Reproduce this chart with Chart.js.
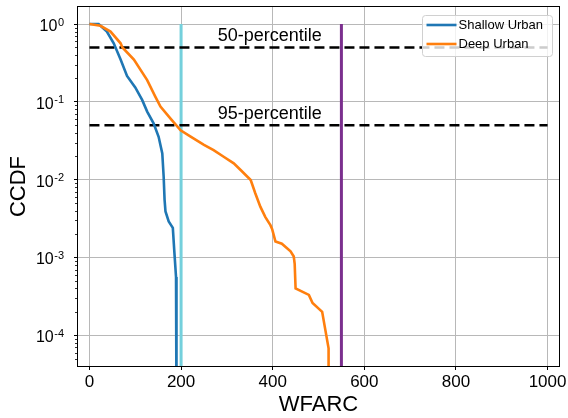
<!DOCTYPE html>
<html>
<head>
<meta charset="utf-8">
<script src="https://cdn.jsdelivr.net/npm/chart.js@4.4.1/dist/chart.umd.min.js"></script>
<style>
  html, body { margin: 0; padding: 0; background: #fff; }
  #wrap { width: 568px; height: 418px; }
</style>
</head>
<body>
<div id="wrap"><canvas id="ccdf" width="568" height="418"></canvas></div>
<script>
// CCDF of WFARC for shallow / deep urban, log y axis

const shallowX = [0, 20, 38, 53, 68, 82, 100, 115, 126, 140, 151, 159, 162, 164, 166, 173, 182, 185, 189, 190];
const shallowY = [1, 1, 0.80, 0.565, 0.35, 0.215, 0.153, 0.106, 0.075, 0.053, 0.0356, 0.0217, 0.0109, 0.0055, 0.0039, 0.0029, 0.0024, 0.00126, 0.00056, 0.00001];

const deepX = [0, 24, 46, 68, 72, 97, 126, 144, 155, 177, 199, 220, 250, 271, 293, 315, 330, 352, 362, 373, 384, 395, 399, 406, 420, 439, 446, 448, 450, 479, 487, 508, 522, 522];
const deepY = [1, 0.95, 0.80, 0.565, 0.5, 0.35, 0.19, 0.116, 0.087, 0.061, 0.043, 0.036, 0.028, 0.024, 0.0197, 0.0162, 0.0133, 0.0099, 0.0067, 0.0045, 0.0033, 0.0026, 0.0023, 0.0016, 0.0015, 0.0012, 0.00103, 0.00083, 0.0004, 0.00033, 0.00026, 0.0002, 0.000068, 0.00001];

const seriesNames = ['Shallow Urban', 'Deep Urban'];

// horizontal percentile guides
const percentileLevels = [0.5, 0.05];
const percentileLabels = ['50-percentile', '95-percentile'];
const percentileSpan = [0, 1000];
const percentileTextX = 280;

// vertical threshold lines
const thresholdX = [200, 550];
const thresholdSpan = [1, 1e-6];

const xTicks = [0, 200, 400, 600, 800, 1000];
const yTicks = [1e-4, 1e-3, 1e-2, 1e-1, 1];
const xRange = [-25, 1025];
const yRange = [4.03e-5, 1.655];

const FONT = "'Liberation Sans', Arial, Helvetica, sans-serif";

function toPoints(xs, ys) {
    return xs.map((x, i) => ({ x: x, y: ys[i] }));
}

const curveStyle = { borderWidth: 2.6, pointRadius: 0, tension: 0, fill: false, clip: 0 };

const datasets = [
    Object.assign({
        label: seriesNames[1],
        data: toPoints(deepX, deepY),
        borderColor: '#ff7f0e',
        order: 1,
        inLegend: true
    }, curveStyle),
    Object.assign({
        label: seriesNames[0],
        data: toPoints(shallowX, shallowY),
        borderColor: '#1f77b4',
        order: 2,
        inLegend: true
    }, curveStyle)
];

percentileLevels.forEach(level => {
    datasets.push({
        label: 'p' + level,
        data: percentileSpan.map(x => ({ x: x, y: level })),
        borderColor: '#000000',
        borderWidth: 2.6,
        borderDash: [10, 5],
        pointRadius: 0,
        clip: 0,
        order: 3
    });
});

const thresholdColors = ['#74d0dc', '#7b2f8e'];
thresholdX.forEach((x, i) => {
    datasets.push({
        label: 't' + x,
        data: thresholdSpan.map(y => ({ x: x, y: y })),
        borderColor: thresholdColors[i],
        borderWidth: 3,
        pointRadius: 0,
        clip: 0,
        order: 4
    });
});

// extra drawing: spines, minor ticks, 10^n labels, text notes, legend
const decorPlugin = {
    id: 'decor',
    beforeDraw(chart) {
        const ctx = chart.ctx;
        ctx.save();
        ctx.fillStyle = '#ffffff';
        ctx.fillRect(0, 0, chart.width, chart.height);
        ctx.restore();
    },
    afterDatasetsDraw(chart) {
        const ctx = chart.ctx;
        const ca = chart.chartArea;
        const xs = chart.scales.x;
        const ys = chart.scales.y;

        ctx.save();

        // percentile notes
        ctx.fillStyle = '#000';
        ctx.font = '18px ' + FONT;
        ctx.textAlign = 'left';
        ctx.textBaseline = 'alphabetic';
        percentileLevels.forEach((level, i) => {
            ctx.fillText(percentileLabels[i], xs.getPixelForValue(percentileTextX), ys.getPixelForValue(level * 1.2));
        });

        // spines
        const l = Math.round(ca.left) - 0.5;
        const r = Math.round(ca.right) + 0.5;
        const t = Math.round(ca.top) - 0.5;
        const b = Math.round(ca.bottom) + 0.5;
        ctx.strokeStyle = '#000';
        ctx.lineWidth = 1;
        ctx.strokeRect(l, t, r - l, b - t);

        // minor log ticks
        ctx.lineWidth = 0.8;
        ctx.beginPath();
        for (let e = -5; e <= 0; e++) {
            for (let m = 2; m <= 9; m++) {
                const v = m * Math.pow(10, e);
                if (v < ys.min || v > ys.max) continue;
                const py = Math.round(ys.getPixelForValue(v)) + 0.5;
                ctx.moveTo(l - 2.5, py);
                ctx.lineTo(l, py);
            }
        }
        ctx.stroke();

        // y labels as 10^n
        yTicks.forEach(v => {
            const py = ys.getPixelForValue(v);
            const e = Math.round(Math.log10(v));
            const sup = e === 0 ? '0' : '-' + Math.abs(e);
            const right = l - 13.5;
            ctx.textAlign = 'right';
            ctx.textBaseline = 'alphabetic';
            ctx.font = '11px ' + FONT;
            const w = ctx.measureText(sup).width;
            ctx.fillText(sup, right, py + 1.5);
            ctx.font = '16px ' + FONT;
            ctx.fillText('10', right - w - 0.5, py + 7);
        });

        ctx.restore();
    },
    afterDraw(chart) {
        const ctx = chart.ctx;
        const ca = chart.chartArea;
        const items = chart.data.datasets.filter(d => d.inLegend);
        // matplotlib keeps plotting order in the legend
        items.sort((a, b) => seriesNames.indexOf(a.label) - seriesNames.indexOf(b.label));

        const boxW = 130, rowH = 19, boxH = 41;
        const bx = Math.round(ca.right) - 6.5 - boxW;
        const by = Math.round(ca.top) + 8.5;

        ctx.save();
        ctx.beginPath();
        ctx.roundRect(bx, by, boxW, boxH, 3);
        ctx.fillStyle = 'rgba(255,255,255,0.8)';
        ctx.fill();
        ctx.strokeStyle = '#d0d0d0';
        ctx.lineWidth = 1;
        ctx.stroke();

        ctx.font = '13px ' + FONT;
        ctx.textAlign = 'left';
        ctx.textBaseline = 'middle';
        items.forEach((d, i) => {
            const cy = by + 9.5 + i * rowH;
            ctx.strokeStyle = d.borderColor;
            ctx.lineWidth = 2.6;
            ctx.beginPath();
            ctx.moveTo(bx + 4, cy);
            ctx.lineTo(bx + 34, cy);
            ctx.stroke();
            ctx.fillStyle = '#000';
            ctx.fillText(d.label, bx + 36, cy + 0.5);
        });
        ctx.restore();
    }
};

new Chart(document.getElementById('ccdf'), {
    type: 'line',
    data: { datasets: datasets },
    options: {
        responsive: false,
        animation: false,
        devicePixelRatio: 1,
        layout: { padding: { top: 7, right: 9, left: 0, bottom: 0 } },
        plugins: {
            legend: { display: false },
            tooltip: { enabled: false }
        },
        scales: {
            x: {
                type: 'linear',
                min: xRange[0],
                max: xRange[1],
                afterBuildTicks: scale => {
                    scale.ticks = xTicks.map(v => ({ value: v }));
                },
                afterFit: scale => {
                    scale.height = 52;
                    scale.paddingLeft = 0;
                    scale.paddingRight = 0;
                },
                grid: {
                    color: '#b8b8b8',
                    lineWidth: 1,
                    drawTicks: true,
                    tickLength: 4,
                    tickColor: '#000'
                },
                border: { display: false },
                ticks: {
                    color: '#000',
                    padding: 2,
                    maxRotation: 0,
                    font: { family: FONT, size: 17 },
                    callback: v => String(v)
                },
                title: {
                    display: true,
                    text: 'WFARC',
                    color: '#000',
                    font: { family: FONT, size: 22 },
                    padding: { top: 0, bottom: 0 }
                }
            },
            y: {
                type: 'logarithmic',
                min: yRange[0],
                max: yRange[1],
                afterBuildTicks: scale => {
                    scale.ticks = yTicks.map(v => ({ value: v, major: true }));
                },
                afterFit: scale => {
                    scale.width = 78;
                },
                grid: {
                    color: '#b8b8b8',
                    lineWidth: 1,
                    drawTicks: true,
                    tickLength: 4,
                    tickColor: '#000'
                },
                border: { display: false },
                ticks: { display: false },
                title: {
                    display: true,
                    text: 'CCDF',
                    color: '#000',
                    font: { family: FONT, size: 22 },
                    padding: { top: 6, bottom: 0 }
                }
            }
        }
    },
    plugins: [decorPlugin]
});
</script>
</body>
</html>
